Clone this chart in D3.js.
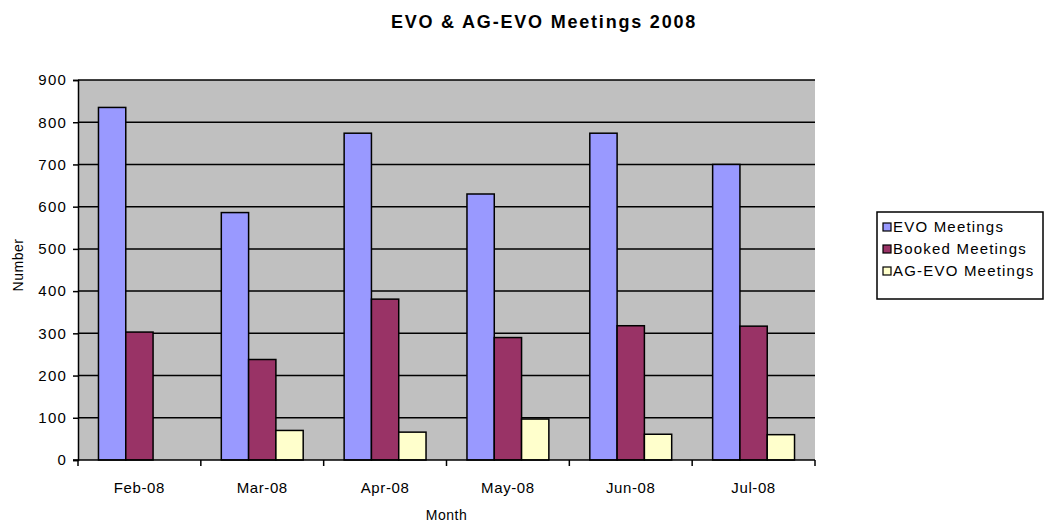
<!DOCTYPE html>
<html>
<head>
<meta charset="utf-8">
<script src="https://cdn.jsdelivr.net/npm/d3@7"></script>
<style>
  body { margin: 0; background: #fff; }
  text { font-family: "Liberation Sans", Arial, sans-serif; fill: #000; }
</style>
</head>
<body>
<div id="chart"></div>
<script>
const months = ["Feb-08", "Mar-08", "Apr-08", "May-08", "Jun-08", "Jul-08"];
const seriesNames = ["EVO Meetings", "Booked Meetings", "AG-EVO Meetings"];
const evoMeetings = [835, 586, 774, 630, 774, 700];
const bookedMeetings = [303, 238, 381, 290, 318, 317];
const agEvoMeetings = [0, 70, 66, 97, 61, 60];
const yTicks = [0, 100, 200, 300, 400, 500, 600, 700, 800, 900];
const colors = ["#9999FF", "#993366", "#FFFFCC"];

const width = 1045, height = 523;
const plot = { left: 78, right: 815, top: 80, bottom: 460 };

const svg = d3.select("#chart").append("svg")
    .attr("width", width)
    .attr("height", height);

svg.append("rect").attr("width", width).attr("height", height).attr("fill", "#fff");

const x0 = d3.scaleBand().domain(months).range([plot.left, plot.right]).padding(0);
const x1 = d3.scaleBand().domain(seriesNames).range([0, x0.bandwidth()])
    .paddingInner(0).paddingOuter(0.75);
const y = d3.scaleLinear().domain([0, 900]).range([plot.bottom, plot.top]);

// plot area
svg.append("rect")
    .attr("x", plot.left).attr("y", plot.top)
    .attr("width", plot.right - plot.left).attr("height", plot.bottom - plot.top)
    .attr("fill", "#C0C0C0");

// gridlines
svg.append("g").selectAll("line")
    .data(yTicks.filter(d => d > 0))
    .enter().append("line")
    .attr("x1", plot.left).attr("x2", plot.right)
    .attr("y1", d => y(d)).attr("y2", d => y(d))
    .attr("stroke", "#000").attr("stroke-width", 1.5);

// bars
const data = months.map((m, i) => ({
    month: m,
    values: [evoMeetings[i], bookedMeetings[i], agEvoMeetings[i]]
}));

svg.append("g").selectAll("g")
    .data(data)
    .enter().append("g")
    .attr("transform", d => `translate(${x0(d.month)},0)`)
    .selectAll("rect")
    .data(d => d.values.map((v, k) => ({ key: seriesNames[k], value: v, k })).filter(d => d.value > 0))
    .enter().append("rect")
    .attr("x", d => x1(d.key))
    .attr("y", d => y(d.value))
    .attr("width", x1.bandwidth())
    .attr("height", d => y(0) - y(d.value))
    .attr("fill", d => colors[d.k])
    .attr("stroke", "#000")
    .attr("stroke-width", 1.5);

// y axis
const yAxis = svg.append("g")
    .attr("transform", `translate(${plot.left},0)`)
    .call(d3.axisLeft(y).tickValues(yTicks).tickSize(5).tickPadding(6));
yAxis.select(".domain").attr("stroke", "#000").attr("stroke-width", 1.5);
yAxis.selectAll(".tick line").attr("stroke", "#000").attr("stroke-width", 1.5);
yAxis.selectAll("text").style("font-size", "15px").style("letter-spacing", "1.2px");

// x axis
svg.append("line")
    .attr("x1", plot.left - 5).attr("x2", plot.right)
    .attr("y1", plot.bottom).attr("y2", plot.bottom)
    .attr("stroke", "#000").attr("stroke-width", 1.5);

const edges = months.map(m => x0(m)).concat([x0(months[months.length - 1]) + x0.bandwidth()]);
svg.append("g").selectAll("line")
    .data(edges)
    .enter().append("line")
    .attr("x1", d => d).attr("x2", d => d)
    .attr("y1", plot.bottom).attr("y2", plot.bottom + 6)
    .attr("stroke", "#000").attr("stroke-width", 1.5);

svg.append("g").selectAll("text")
    .data(months)
    .enter().append("text")
    .attr("x", d => x0(d) + x0.bandwidth() / 2)
    .attr("y", 493)
    .attr("text-anchor", "middle")
    .style("font-size", "15px")
    .style("letter-spacing", "0.6px")
    .text(d => d);

// axis titles
svg.append("text")
    .attr("x", (plot.left + plot.right) / 2)
    .attr("y", 520)
    .attr("text-anchor", "middle")
    .style("font-size", "14px")
    .style("letter-spacing", "0.5px")
    .text("Month");

svg.append("text")
    .attr("transform", "translate(23,265) rotate(-90)")
    .attr("text-anchor", "middle")
    .style("font-size", "14px")
    .style("letter-spacing", "0.5px")
    .text("Number");

// title
svg.append("text")
    .attr("x", 544)
    .attr("y", 28)
    .attr("text-anchor", "middle")
    .style("font-size", "18px")
    .style("font-weight", "bold")
    .style("letter-spacing", "1.8px")
    .text("EVO & AG-EVO Meetings 2008");

// legend
const legend = svg.append("g").attr("transform", "translate(877,212)");
legend.append("rect")
    .attr("width", 166).attr("height", 87)
    .attr("fill", "#fff").attr("stroke", "#000").attr("stroke-width", 1.5);

const items = legend.selectAll("g.item")
    .data(seriesNames)
    .enter().append("g")
    .attr("class", "item")
    .attr("transform", (d, i) => `translate(6,${15 + i * 22})`);

items.append("rect")
    .attr("x", 0).attr("y", -4)
    .attr("width", 8).attr("height", 8)
    .attr("fill", (d, i) => colors[i])
    .attr("stroke", "#000").attr("stroke-width", 1.2);

items.append("text")
    .attr("x", 10).attr("y", 5)
    .style("font-size", "15px")
    .style("letter-spacing", "1.2px")
    .text(d => d);
</script>
</body>
</html>
